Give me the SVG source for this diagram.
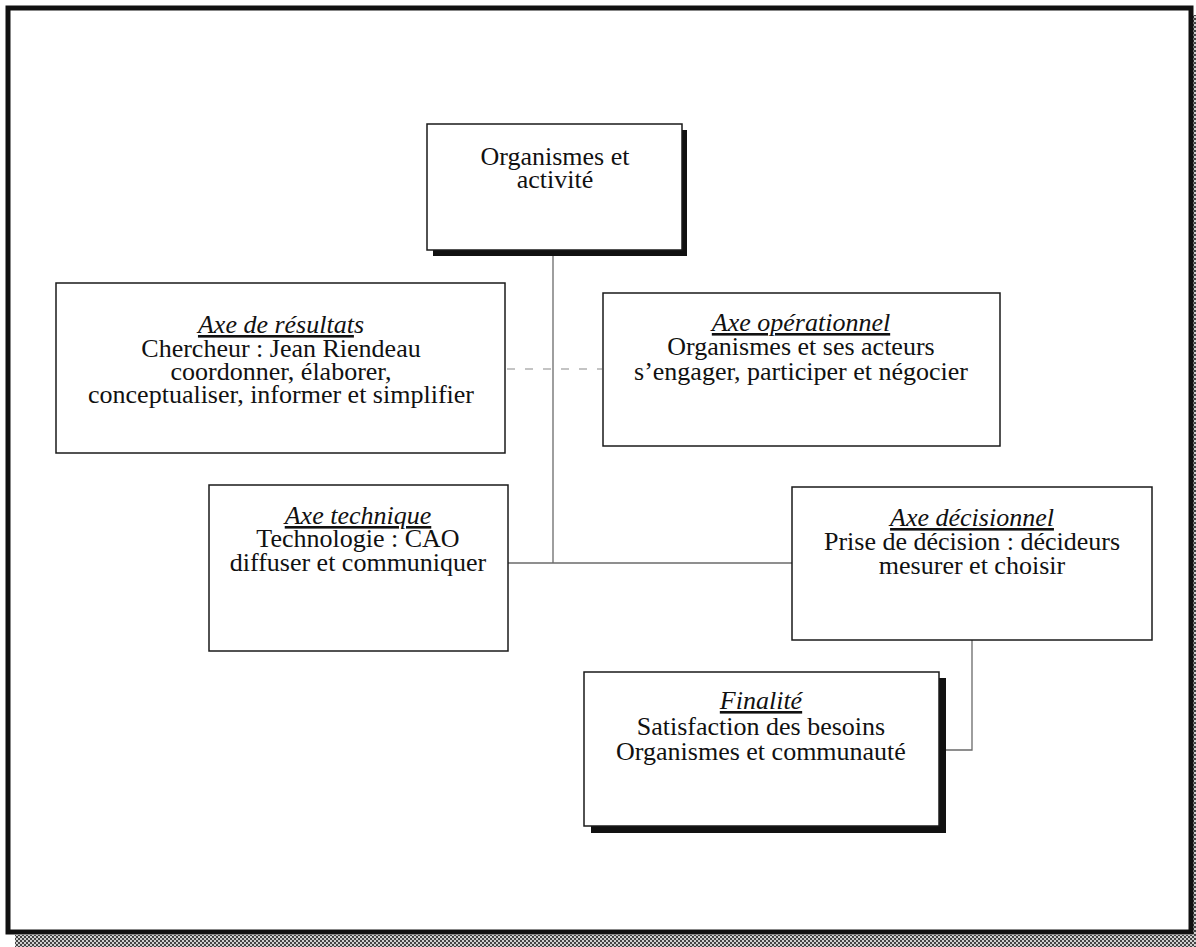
<svg xmlns="http://www.w3.org/2000/svg" width="1196" height="947" viewBox="0 0 1196 947">
  <style>
    .box { fill: #ffffff; stroke: #1a1a1a; stroke-width: 1.5; }
    .shadow { fill: #111111; }
    .lbl { font-family: "Liberation Serif", "Times New Roman", serif; font-size: 26px; fill: #111111; text-anchor: middle; }
    .ttl { font-style: italic; }
    .u { text-decoration: underline; }
    .link { stroke: #6a6a6a; stroke-width: 1.3; fill: none; }
    .dash { stroke: #c4c4c4; stroke-width: 2; stroke-dasharray: 8 10; fill: none; }
  </style>
  <defs>
    <pattern id="hatch" width="4" height="4" patternUnits="userSpaceOnUse">
      <rect width="4" height="4" fill="#d0d0d0"/>
      <rect width="2" height="2" fill="#444444"/>
      <rect x="2" y="2" width="2" height="2" fill="#444444"/>
    </pattern>
  </defs>

  <rect width="1196" height="947" fill="#ffffff"/>

  <!-- page frame with dotted drop shadow -->
  <g id="frame">
    <rect x="15" y="935" width="1181" height="12" fill="url(#hatch)"/>
    <rect x="1193" y="15" width="3" height="932" fill="url(#hatch)"/>
    <rect x="8" y="8" width="1183" height="924" fill="none" stroke="#111111" stroke-width="5"/>
  </g>

  <!-- connectors -->
  <g id="connectors">
    <line class="link" x1="553" y1="256" x2="553" y2="563"/>
    <line class="link" x1="508" y1="563" x2="792" y2="563"/>
    <polyline class="link" points="972,640 972,750 946,750"/>
    <line class="dash" x1="507" y1="369" x2="602" y2="369"/>
  </g>

  <!-- root -->
  <g id="organismes">
    <rect class="shadow" x="433" y="130" width="254" height="126"/>
    <rect class="box" x="427" y="124" width="255" height="126"/>
    <text class="lbl" x="555" y="165">Organismes et<tspan x="555" dy="23">activité</tspan></text>
  </g>

  <g id="axe-resultats">
    <rect class="box" x="56" y="283" width="449" height="170"/>
    <text class="lbl" x="281" y="333"><tspan class="ttl u">Axe de résultat</tspan><tspan class="ttl">s</tspan><tspan x="281" dy="24">Chercheur : Jean Riendeau</tspan><tspan x="281" dy="23">coordonner, élaborer,</tspan><tspan x="281" dy="23">conceptualiser, informer et simplifier</tspan></text>
  </g>

  <g id="axe-operationnel">
    <rect class="box" x="603" y="293" width="397" height="153"/>
    <text class="lbl" x="801" y="331"><tspan class="ttl u">Axe opérationnel</tspan><tspan x="801" dy="24">Organismes et ses acteurs</tspan><tspan x="801" dy="25">s’engager, participer et négocier</tspan></text>
  </g>

  <g id="axe-technique">
    <rect class="box" x="209" y="485" width="299" height="166"/>
    <text class="lbl" x="358" y="524"><tspan class="ttl u">Axe technique</tspan><tspan x="358" dy="23">Technologie : CAO</tspan><tspan x="358" dy="24">diffuser et communiquer</tspan></text>
  </g>

  <g id="axe-decisionnel">
    <rect class="box" x="792" y="487" width="360" height="153"/>
    <text class="lbl" x="972" y="526"><tspan class="ttl u">Axe décisionnel</tspan><tspan x="972" dy="24">Prise de décision : décideurs</tspan><tspan x="972" dy="24">mesurer et choisir</tspan></text>
  </g>

  <g id="finalite">
    <rect class="shadow" x="591" y="678" width="355" height="155"/>
    <rect class="box" x="584" y="672" width="355" height="154"/>
    <text class="lbl" x="761" y="709"><tspan class="ttl u">Finalité</tspan><tspan x="761" dy="26">Satisfaction des besoins</tspan><tspan x="761" dy="25">Organismes et communauté</tspan></text>
  </g>
</svg>
